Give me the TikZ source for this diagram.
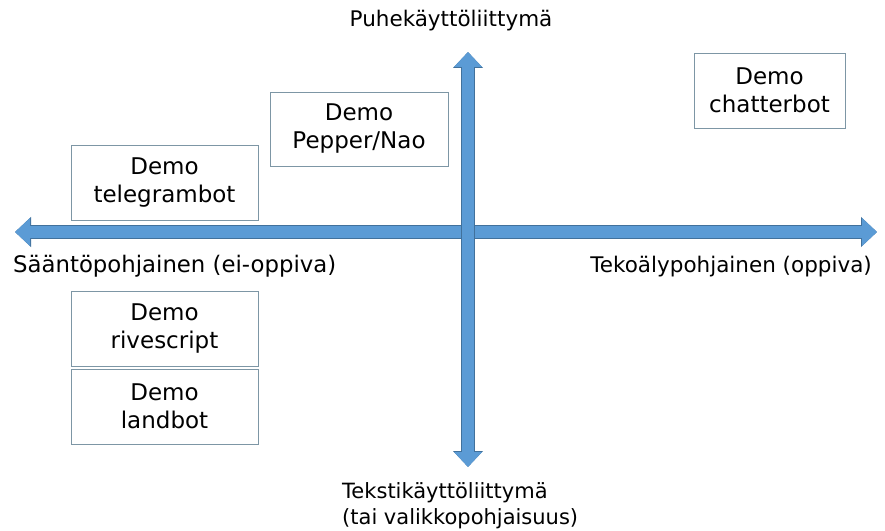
\documentclass[tikz,border=0pt]{standalone}
\usepackage{fontspec}
\setmainfont{DejaVu Sans}
\usetikzlibrary{arrows.meta}
\definecolor{axisblue}{HTML}{5B9BD5}
\definecolor{axisdark}{HTML}{41719C}
\definecolor{boxline}{RGB}{125,150,165}
\begin{document}
\begin{tikzpicture}[x=1pt,y=1pt,
axis/.style={line width=12pt, axisblue,
  {Triangle[width=27pt,length=15pt]}-{Triangle[width=27pt,length=15pt]},
  preaction={draw=axisdark, line width=13.4pt,
  {Triangle[width=29pt,length=16pt]}-{Triangle[width=29pt,length=16pt]}}},
demo/.style={draw=boxline, line width=0.9pt, fill=white, align=center,
  inner sep=0pt, font=\fontsize{23}{28}\selectfont},
axislabel/.style={inner sep=0pt, font=\fontsize{21.5}{26}\selectfont}]
\useasboundingbox (0,0) rectangle (885,530);
\coordinate (west) at (15,298);
\coordinate (east) at (877,298);
\coordinate (north) at (468,478);
\coordinate (south) at (468,63);
\draw[axis] (west) -- (east);
\draw[axis] (south) -- (north);
\node[demo, minimum width=151pt, minimum height=75pt] (chatter) at (769.5,439.5) {Demo\\chatterbot};
\node[demo, minimum width=178pt, minimum height=74pt] (pepper) at (359,401) {Demo\\Pepper/Nao};
\node[demo, minimum width=187pt, minimum height=75pt] (telegram) at (164.5,347.5) {Demo\\telegrambot};
\node[demo, minimum width=187pt, minimum height=75pt] (rive) at (164.5,201.5) {Demo\\rivescript};
\node[demo, minimum width=187pt, minimum height=75pt] (land) at (164.5,123.5) {Demo\\landbot};
\node[axislabel, anchor=base west, font=\fontsize{22.8}{26}\selectfont] (rule) at (13,257) {Sääntöpohjainen (ei-oppiva)};
\node[axislabel, anchor=base east] (ai) at (872,257) {Tekoälypohjainen (oppiva)};
\node[axislabel, anchor=base] (speech) at (451,503) {Puhekäyttöliittymä};
\node[axislabel, anchor=north west, align=left, font=\fontsize{21}{26}\selectfont] (text) at (342,48) {Tekstikäyttöliittymä\\(tai valikkopohjaisuus)};
\end{tikzpicture}
\end{document}
